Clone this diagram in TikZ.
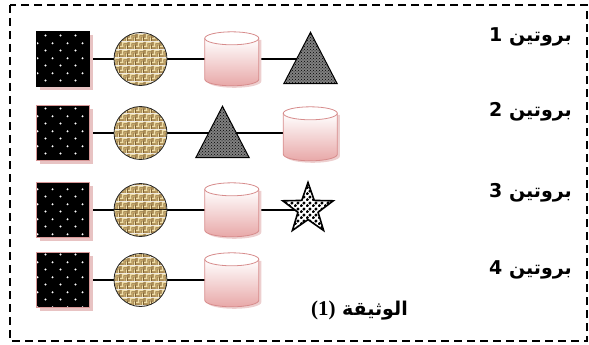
\documentclass[tikz,border=0pt]{standalone}
\usepackage{fontspec}
\TeXXeTstate=1
\newfontfamily\arabicfont[Script=Arabic]{DejaVu Sans}
\newfontfamily\latinserif{Liberation Serif}
\usetikzlibrary{patterns,patterns.meta,shapes.geometric,shadows,backgrounds}

\definecolor{pinkedge}{RGB}{215,150,150}
\definecolor{shadowpink}{RGB}{232,195,195}
\definecolor{cylbottom}{RGB}{232,168,168}
\definecolor{cylline}{RGB}{215,140,140}
\definecolor{weavebase}{RGB}{196,165,105}
\definecolor{weavelight}{RGB}{240,222,168}
\definecolor{weavedark}{RGB}{125,95,50}

\tikzdeclarepattern{
  name=sqdots, type=uncolored,
  bounding box={(0pt,0pt) and (14.5pt,14.6pt)},
  tile size={(14.5pt,14.6pt)},
  code={\pgfpathcircle{\pgfpoint{1.5pt}{1.5pt}}{1.1pt}%
        \pgfpathcircle{\pgfpoint{8.75pt}{8.8pt}}{1.1pt}%
        \pgfusepath{fill}}
}
\tikzdeclarepattern{
  name=stardots, type=uncolored,
  bounding box={(0pt,0pt) and (6pt,6pt)},
  tile size={(6pt,6pt)},
  code={\pgfpathcircle{\pgfpoint{1.5pt}{1.5pt}}{1.9pt}%
        \pgfpathcircle{\pgfpoint{4.5pt}{4.5pt}}{1.9pt}%
        \pgfusepath{fill}}
}
\tikzdeclarepattern{
  name=weave, type=colored,
  bounding box={(0pt,0pt) and (8pt,8pt)},
  tile size={(8pt,8pt)},
  code={%
    \pgfsetfillcolor{weavedark}%
    \pgfpathrectangle{\pgfpointorigin}{\pgfpoint{8pt}{8pt}}\pgfusepath{fill}%
    \pgfsetfillcolor{weavebase}%
    \pgfpathrectangle{\pgfpoint{0pt}{0.4pt}}{\pgfpoint{4pt}{1.4pt}}%
    \pgfpathrectangle{\pgfpoint{4.4pt}{0pt}}{\pgfpoint{1.4pt}{4pt}}%
    \pgfpathrectangle{\pgfpoint{4pt}{4.4pt}}{\pgfpoint{4pt}{1.4pt}}%
    \pgfpathrectangle{\pgfpoint{0.4pt}{4pt}}{\pgfpoint{1.4pt}{4pt}}%
    \pgfusepath{fill}%
    \pgfsetfillcolor{weavelight}%
    \pgfpathrectangle{\pgfpoint{0pt}{2.2pt}}{\pgfpoint{4pt}{1.4pt}}%
    \pgfpathrectangle{\pgfpoint{6.2pt}{0pt}}{\pgfpoint{1.4pt}{4pt}}%
    \pgfpathrectangle{\pgfpoint{4pt}{6.2pt}}{\pgfpoint{4pt}{1.4pt}}%
    \pgfpathrectangle{\pgfpoint{2.2pt}{4pt}}{\pgfpoint{1.4pt}{4pt}}%
    \pgfusepath{fill}}
}

\tikzset{
  sq/.style={rectangle, inner sep=0pt, minimum width=53pt, minimum height=55pt,
    draw=pinkedge, line width=1pt,
    drop shadow={shadow xshift=3.5pt, shadow yshift=-3.5pt, fill=shadowpink, opacity=1},
    preaction={fill=black}, pattern=sqdots, pattern color=white},
  sqdark/.style={sq, draw=black},
  ball/.style={circle, inner sep=0pt, minimum size=53pt, draw=black!85,
    line width=0.8pt, pattern=weave},
  slot/.style={rectangle, inner sep=0pt, draw=none},
  starsh/.style={star, star points=5, star point ratio=2.5, minimum size=53pt,
    inner sep=0pt, draw=black, line width=1.6pt, preaction={fill=white},
    pattern=stardots, pattern color=black},
  conn/.style={draw=black, line width=1.3pt},
  lab/.style={font=\arabicfont\bfseries\fontsize{19}{22}\selectfont, inner sep=0pt, anchor=east},
  frame/.style={draw=black, line width=1.2pt, dash pattern=on 8pt off 5pt}
}

\newcommand\cylnode[3]{%
  \node[slot, minimum width=54pt, minimum height=54pt] (#1) at (#2,#3) {};
  \begin{scope}[shift={(#1.north west)}]
    \fill[shadowpink!80] (2.5,8) -- (2.5,49.5) arc[start angle=180, end angle=360, x radius=27pt, y radius=6.5pt] -- (56.5,8) -- cycle;
    \path[draw=cylline, line width=0.8pt, top color=white, bottom color=cylbottom]
      (0,6.5) -- (0,47.5) arc[start angle=180, end angle=360, x radius=27pt, y radius=6.5pt] -- (54,6.5) -- cycle;
    \path[draw=cylline, line width=0.8pt, fill=white] (27,6.5) ellipse [x radius=27pt, y radius=6.5pt];
  \end{scope}}

\newcommand\trinode[3]{%
  \node[slot, minimum width=53pt, minimum height=51pt] (#1) at (#2,#3) {};
  \path[draw=black, line width=1pt, preaction={fill=black!50}, pattern=crosshatch dots, pattern color=black]
    (#1.south west) -- (#1.north) -- (#1.south east) -- cycle;}

\begin{document}
\begin{tikzpicture}[x=1pt, y=-1pt]
\useasboundingbox (0,0) rectangle (589,345);
\draw[frame] (10,5) rectangle (587,341);

% row 1
\node[sqdark] (s1) at (62.5,59) {};
\node[ball] (b1) at (140.5,59) {};
\cylnode{y1}{232}{59}
\trinode{t1}{310.5}{58}
% row 2
\node[sq] (s2) at (62.5,133) {};
\node[ball] (b2) at (140.5,133) {};
\trinode{t2}{222.5}{132}
\cylnode{y2}{310.5}{134}
% row 3
\node[sq] (s3) at (62.5,210) {};
\node[ball] (b3) at (140.5,210) {};
\cylnode{y3}{232}{210}
\node[starsh] (r3) at (308,209) {};
% row 4
\node[sq] (s4) at (62.5,280) {};
\node[ball] (b4) at (140.5,280) {};
\cylnode{y4}{232}{280}

\begin{scope}[on background layer]
  \draw[conn] (s1.center) -- (b1.center) -- (y1.center) -- (t1.center |- y1.center);
  \draw[conn] (s2.center) -- (b2.center) -- (t2.center |- b2.center) -- (y2.center |- b2.center);
  \draw[conn] (s3.center) -- (b3.center) -- (y3.center) -- (r3.center |- y3.center);
  \draw[conn] (s4.center) -- (b4.center) -- (y4.center);
\end{scope}

\node[lab] (l1) at (572,37) {\beginR بروتين 1\endR};
\node[lab] (l2) at (572,112) {\beginR بروتين 2\endR};
\node[lab] (l3) at (572,193) {\beginR بروتين 3\endR};
\node[lab] (l4) at (572,270) {\beginR بروتين 4\endR};
\node[lab] (doc) at (408,311) {{\latinserif\bfseries\fontsize{21}{24}\selectfont (1)} \beginR الوثيقة\endR};
\end{tikzpicture}
\end{document}
